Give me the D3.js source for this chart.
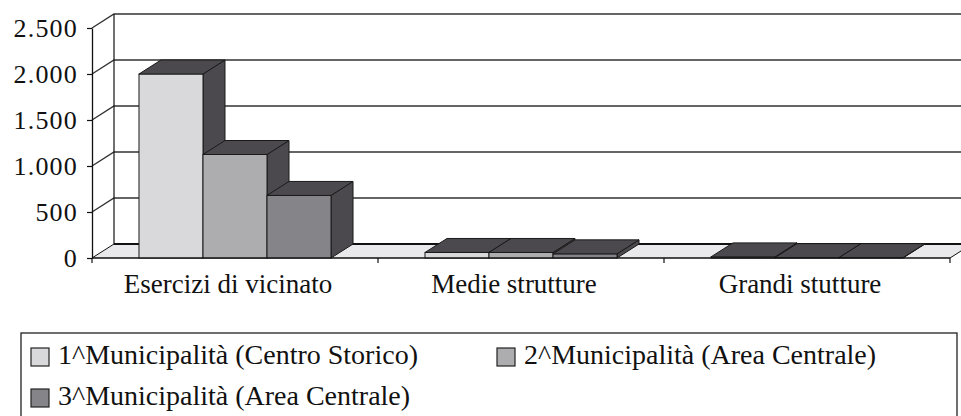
<!DOCTYPE html>
<html>
<head>
<meta charset="utf-8">
<script src="https://cdn.jsdelivr.net/npm/d3@7/dist/d3.min.js"></script>
<style>
  html, body { margin: 0; padding: 0; background: #fff; }
  svg { display: block; }
</style>
</head>
<body>
<svg id="chart" width="961" height="416"></svg>
<script>
const categories = ["Esercizi di vicinato", "Medie strutture", "Grandi stutture"];
const seriesNames = ["1^Municipalità (Centro Storico)", "2^Municipalità (Area Centrale)", "3^Municipalità (Area Centrale)"];
const series1 = [2000, 60, 12];
const series2 = [1125, 60, 4];
const series3 = [680, 45, 4];
const yTickValues = [0, 500, 1000, 1500, 2000, 2500];
const yTickLabels = ["0", "500", "1.000", "1.500", "2.000", "2.500"];
const frontColors = ["#d9d9db", "#adadb0", "#858489"];
const darkColor = "#4b494e";

const allSeries = [series1, series2, series3];

(function () {
const svg = d3.select("#chart");
const plotLeft = 92, plotRight = 950, plotBottom = 258, plotTop = 28;
const dx = 22, dy = -14;

const y = d3.scaleLinear().domain([0, 2500]).range([plotBottom, plotTop]);
const x0 = d3.scaleBand().domain(categories).range([plotLeft, plotRight]).paddingInner(0).paddingOuter(0);
const x1 = d3.scaleBand().domain(seriesNames).range([0, x0.bandwidth()]).paddingInner(0).paddingOuter(0.734);

const serif = "'Liberation Serif', 'Times New Roman', Tinos, serif";

// Floor
svg.append("path")
  .attr("d", `M${plotLeft},${y(0)} L${plotRight},${y(0)} L${plotRight + dx},${y(0) + dy} L${plotLeft + dx},${y(0) + dy} Z`)
  .attr("fill", "#e9e9eb").attr("stroke", "#111").attr("stroke-width", 1);

// Back wall gridlines + side diagonals
const grid = svg.append("g");
yTickValues.forEach(v => {
  if (v === 0) return;
  grid.append("path")
    .attr("d", `M${plotLeft},${y(v)} L${plotLeft + dx},${y(v) + dy} L${975},${y(v) + dy}`)
    .attr("fill", "none").attr("stroke", "#333").attr("stroke-width", 1.4);
});
grid.append("line")
  .attr("x1", plotLeft + dx).attr("x2", plotLeft + dx)
  .attr("y1", y(2500) + dy).attr("y2", y(0) + dy)
  .attr("stroke", "#111").attr("stroke-width", 1.2);
grid.append("line")
  .attr("x1", plotLeft + dx).attr("x2", 975)
  .attr("y1", y(0) + dy).attr("y2", y(0) + dy)
  .attr("stroke", "#111").attr("stroke-width", 2);

// Bars
const barsG = svg.append("g");
categories.forEach((cat, ci) => {
  seriesNames.forEach((s, si) => {
    const v = allSeries[si][ci];
    const x = x0(cat) + x1(s);
    const w = x1.bandwidth();
    const yt = y(v), yb = y(0);
    const g = barsG.append("g");
    g.append("path")
      .attr("d", `M${x + w},${yt} L${x + w + dx},${yt + dy} L${x + w + dx},${yb + dy} L${x + w},${yb} Z`)
      .attr("fill", darkColor).attr("stroke", "#1a1a1a").attr("stroke-width", 1).attr("stroke-linejoin", "round");
    g.append("rect")
      .attr("x", x).attr("y", yt).attr("width", w).attr("height", yb - yt)
      .attr("fill", frontColors[si]).attr("stroke", "#1a1a1a").attr("stroke-width", 1);
    g.append("path")
      .attr("d", `M${x},${yt} L${x + dx},${yt + dy} L${x + w + dx},${yt + dy} L${x + w},${yt} Z`)
      .attr("fill", darkColor).attr("stroke", "#1a1a1a").attr("stroke-width", 1).attr("stroke-linejoin", "round");
  });
});

// Front bottom edge
svg.append("line").attr("x1", plotLeft).attr("x2", plotRight).attr("y1", y(0)).attr("y2", y(0))
  .attr("stroke", "#111").attr("stroke-width", 1.2);

// Y axis
const yAxis = d3.axisLeft(y)
  .tickValues(yTickValues)
  .tickFormat((d, i) => yTickLabels[i])
  .tickSize(5).tickPadding(9).tickSizeOuter(0);
const yg = svg.append("g").attr("transform", `translate(${plotLeft},0)`).call(yAxis);
yg.attr("font-family", null).attr("font-size", null);
yg.select(".domain").attr("stroke", "#111").attr("stroke-width", 1.3);
yg.selectAll(".tick line").attr("stroke", "#111").attr("stroke-width", 1.2);
yg.selectAll(".tick text")
  .style("font-family", serif).style("font-size", "26px").style("letter-spacing", "1.2px")
  .attr("fill", "#111").attr("dy", "0.34em");

// Category boundary ticks
const bounds = categories.map(c => x0(c)).concat([plotRight]);
svg.append("g").selectAll("line").data(bounds).join("line")
  .attr("x1", d => d).attr("x2", d => d)
  .attr("y1", y(0)).attr("y2", y(0) + 5)
  .attr("stroke", "#111").attr("stroke-width", 1.2);

// Category labels
svg.append("g").selectAll("text").data(categories).join("text")
  .attr("x", d => x0(d) + x0.bandwidth() / 2 - 7)
  .attr("y", 293)
  .attr("text-anchor", "middle")
  .style("font-family", serif).style("font-size", "27px").attr("fill", "#111")
  .text(d => d);

// Legend
const lg = svg.append("g");
lg.append("rect").attr("x", 21).attr("y", 333).attr("width", 936).attr("height", 100)
  .attr("fill", "none").attr("stroke", "#222").attr("stroke-width", 1.3);
const legendPos = [[31, 348], [497, 348], [31, 389]];
seriesNames.forEach((s, i) => {
  const [lx, ly] = legendPos[i];
  lg.append("rect").attr("x", lx).attr("y", ly).attr("width", 18).attr("height", 18)
    .attr("fill", frontColors[i]).attr("stroke", "#222").attr("stroke-width", 1.2);
  lg.append("text").attr("x", lx + 27).attr("y", ly + 16)
    .style("font-family", serif).style("font-size", "28px").attr("fill", "#111")
    .text(s);
});
})();
</script>
</body>
</html>
